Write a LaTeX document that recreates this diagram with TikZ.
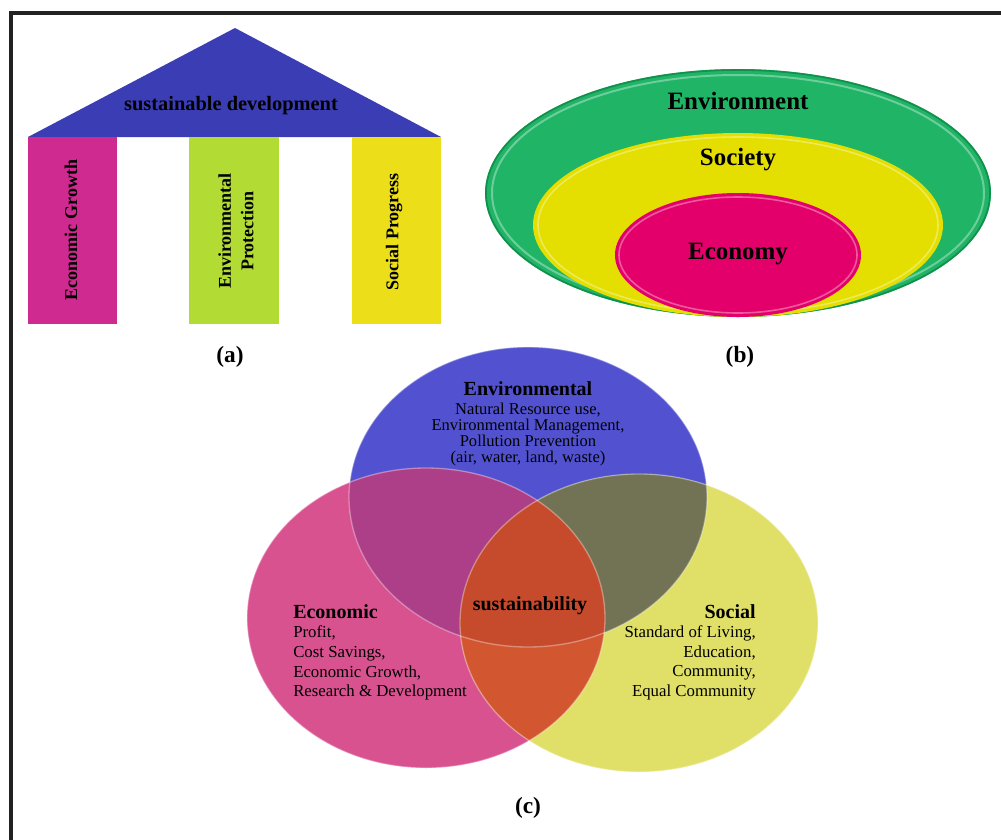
\documentclass[tikz,border=0pt]{standalone}
\usepackage{fontspec}
\setmainfont{Liberation Serif}
\definecolor{roof}{HTML}{3B3DB5}
\definecolor{pilA}{HTML}{CF2A90}
\definecolor{pilB}{HTML}{B2DC34}
\definecolor{pilC}{HTML}{ECDF1A}
\definecolor{bGreen}{HTML}{1FB466}
\definecolor{bGreenD}{HTML}{128F4C}
\definecolor{bYel}{HTML}{E4DF00}
\definecolor{bPink}{HTML}{E3006A}
\definecolor{cBlue}{HTML}{5252D0}
\definecolor{cPink}{HTML}{D95290}
\definecolor{cYel}{HTML}{E0E068}
\definecolor{cBP}{HTML}{AD3F88}
\definecolor{cBY}{HTML}{727254}
\definecolor{cPY}{HTML}{D2562F}
\definecolor{cAll}{HTML}{C64B2C}
\definecolor{frame}{HTML}{222222}
\begin{document}
\begin{tikzpicture}[x=0.75pt,y=-0.75pt,
  hd/.style={inner sep=0pt, font=\fontsize{15}{18}\selectfont\bfseries},
  bdl/.style={inner sep=0pt, font=\fontsize{12.6}{14.8}\selectfont, align=left},
  bdr/.style={inner sep=0pt, font=\fontsize{12.6}{14.8}\selectfont, align=right},
  bdenv/.style={inner sep=0pt, font=\fontsize{12.4}{12}\selectfont, align=center},
  pil/.style={inner sep=0pt, rotate=90, font=\fontsize{13.5}{17}\selectfont\bfseries, align=center},
  bl/.style={inner sep=0pt, font=\fontsize{18.7}{22}\selectfont\bfseries},
  lab/.style={inner sep=0pt, font=\fontsize{17.5}{20}\selectfont\bfseries},
  rim/.style={draw=white, draw opacity=0.35, line width=1pt}]
\useasboundingbox (0,0) rectangle (1001,840);
\fill[white] (0,0) rectangle (1001,840);
% frame
\draw[frame, line width=2.4pt] (11,840) -- (11,13) -- (1001,13);

% ---------- (a) ----------
\fill[roof] (28,137) -- (235,28) -- (441,137) -- cycle;
\fill[pilA] (28,137) rectangle (117,324);
\fill[pilB] (189,137) rectangle (279,324);
\fill[pilC] (352,137) rectangle (441,324);
\node[hd, font=\fontsize{15.3}{18}\selectfont\bfseries] (sd) at (231,106) {sustainable development};
\node[pil] (eg) at (71,230) {Economic Growth};
\node[pil] (ep) at (236,231) {Environmental\\Protection};
\node[pil] (sp) at (394,232) {Social Progress};
\node[lab] (la) at (230,357) {(a)};

% ---------- (b) ----------
\fill[bGreen] (738,193) ellipse [x radius=253, y radius=124];
\draw[bGreenD, line width=1.2pt] (738,193) ellipse [x radius=252, y radius=123];
\draw[white, opacity=0.35, line width=1.5pt] (738,193) ellipse [x radius=246, y radius=118];
\fill[bYel] (738,225) ellipse [x radius=205, y radius=92];
\draw[white, opacity=0.35, line width=1.2pt] (738,225) ellipse [x radius=200, y radius=88];
\fill[bPink] (738,255) ellipse [x radius=123, y radius=62];
\draw[white, opacity=0.35, line width=1.2pt] (738,255) ellipse [x radius=119, y radius=58];
\node[bl] (env) at (738,101) {Environment};
\node[bl] (soc) at (738,160) {Society};
\node[bl] (eco) at (738,254) {Economy};
\node[lab] (lb) at (740,357) {(b)};

% ---------- (c) ----------
\def\Eb{(528,497) ellipse [x radius=179, y radius=150]}
\def\Ep{(426,618) ellipse [x radius=179, y radius=150]}
\def\Ey{(639,623) ellipse [x radius=179, y radius=149]}
\fill[cBlue] \Eb;
\fill[cPink] \Ep;
\fill[cYel] \Ey;
\begin{scope}
  \clip \Eb;
  \fill[cBP] \Ep;
  \fill[cBY] \Ey;
\end{scope}
\begin{scope}
  \clip \Ep;
  \fill[cPY] \Ey;
\end{scope}
\begin{scope}
  \clip \Eb;
  \clip \Ep;
  \fill[cAll] \Ey;
\end{scope}
\draw[rim] \Eb;
\draw[rim] \Ep;
\draw[rim] \Ey;

\node[hd] (envh) at (528,389) {Environmental};
\node[bdenv] (envb) at (528,435) {Natural Resource use,\\Environmental Management,\\Pollution Prevention\\(air, water, land, waste)};
\node[hd, anchor=west] (ecoh) at (293,612) {Economic};
\node[bdl, anchor=west] (ecob) at (293,663) {Profit,\\Cost Savings,\\Economic Growth,\\Research \& Development};
\node[hd, anchor=east] (soch) at (756,612) {Social};
\node[bdr, anchor=east] (socb) at (756,663) {Standard of Living,\\Education,\\Community,\\Equal Community};
\node[hd] (sus) at (530,606) {sustainability};
\node[lab] (lc) at (528,808) {(c)};
\end{tikzpicture}
\end{document}
